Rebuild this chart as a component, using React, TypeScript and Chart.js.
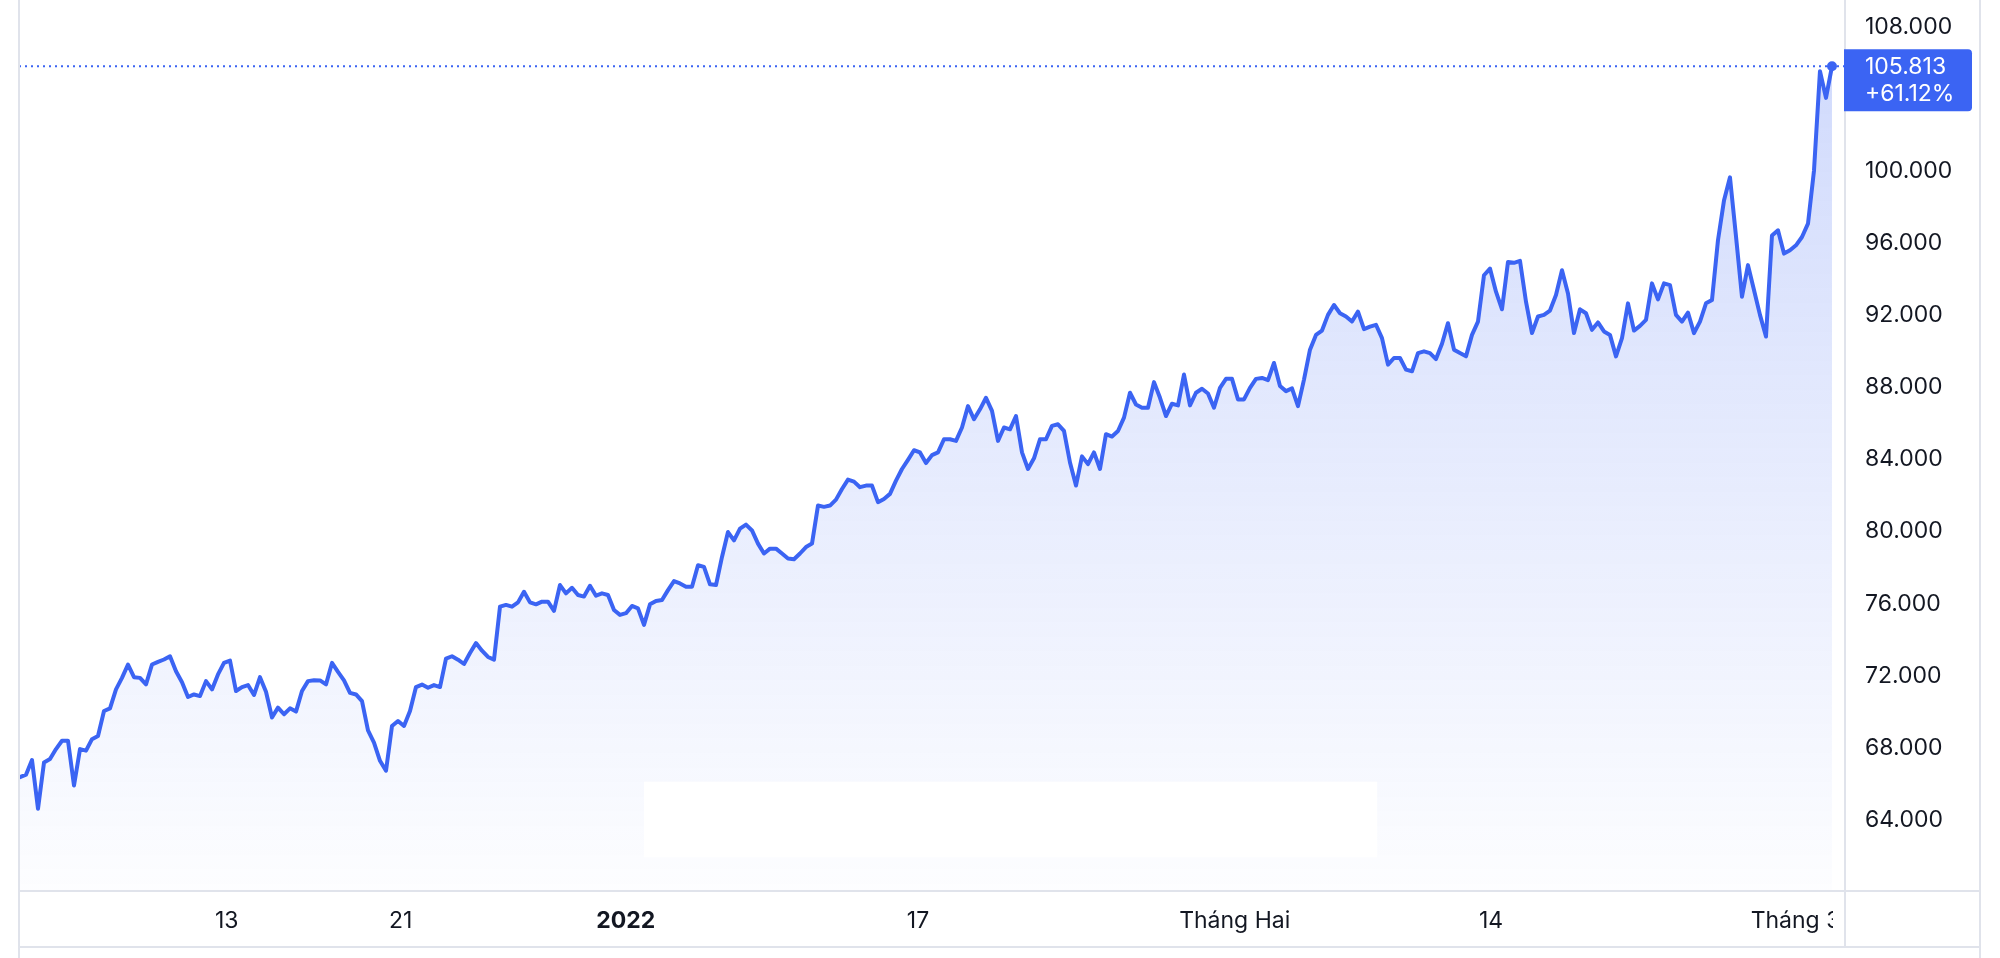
import React, { useEffect, useRef } from "react";
import { Chart, registerables } from "chart.js";

Chart.register(...registerables);

// Price series (in thousands), evenly spaced samples from early December 2021 to 1 March 2022
const prices: number[] = [
  66.37, 66.51, 67.32, 64.62, 67.19, 67.38, 67.93, 68.39, 68.39, 65.91,
  67.93, 67.84, 68.48, 68.66, 70.04, 70.19, 71.24, 71.88, 72.62, 71.92,
  71.88, 71.52, 72.62, 72.77, 72.90, 73.08, 72.25, 71.64, 70.82, 70.96,
  70.87, 71.70, 71.24, 72.07, 72.71, 72.84, 71.15, 71.37, 71.48, 70.93,
  71.92, 71.11, 69.68, 70.23, 69.86, 70.19, 70.01, 71.15, 71.70, 71.75,
  71.74, 71.52, 72.71, 72.21, 71.74,
  71.05, 70.96, 70.59, 68.97, 68.29, 67.28, 66.73, 69.21, 69.49, 69.21,
  70.04, 71.37, 71.51, 71.33, 71.48, 71.37, 72.95, 73.08, 72.89, 72.65,
  73.26, 73.81, 73.39, 73.04, 72.89, 75.83, 75.93, 75.83, 76.07, 76.66,
  76.07, 75.96, 76.11, 76.11, 75.60, 77.03, 76.57, 76.88, 76.48, 76.39,
  76.99, 76.44, 76.57, 76.48, 75.65, 75.375, 75.47, 75.87, 75.74, 74.82,
  75.96, 76.15,
  76.20, 76.75, 77.25, 77.12, 76.94, 76.94, 78.13, 78.04, 77.07, 77.03,
  78.59, 79.97, 79.51, 80.16, 80.38, 80.06, 79.33, 78.78, 79.05, 79.05,
  78.78, 78.50, 78.46, 78.78, 79.14, 79.33, 81.44, 81.37, 81.44, 81.77,
  82.36, 82.88, 82.77, 82.46, 82.55, 82.55, 81.63, 81.81, 82.09, 82.82,
  83.47, 83.98, 84.51, 84.39, 83.80, 84.24, 84.39, 85.12, 85.12, 85.03,
  85.77, 86.96, 86.23,
  86.78, 87.42, 86.69, 85.03, 85.77, 85.67, 86.41, 84.39, 83.47, 84.06,
  85.12, 85.12, 85.86, 85.95, 85.58, 83.83, 82.55, 84.17, 83.74, 84.39,
  83.47, 85.40, 85.27, 85.58, 86.32, 87.70, 87.05, 86.87, 86.87, 88.29,
  87.42, 86.41, 87.09, 87.00, 88.71, 87.00, 87.70, 87.92, 87.66, 86.87,
  87.97, 88.47, 88.47, 87.33, 87.33, 87.97, 88.47, 88.52, 88.40, 89.35,
  88.07, 87.79, 87.94, 86.96,
  88.43, 90.09, 90.91, 91.15, 92.02, 92.57, 92.11, 91.93, 91.65, 92.20,
  91.23, 91.37, 91.47, 90.73, 89.26, 89.63, 89.63, 88.98, 88.89, 89.90,
  90.00, 89.90, 89.57, 90.42, 91.56, 90.09, 89.90, 89.72, 90.91, 91.65,
  94.22, 94.59, 93.31, 92.33, 94.96, 94.91, 95.02, 92.75, 91.01, 91.93,
  92.02, 92.26, 93.12, 94.50, 93.21, 91.01, 92.33, 92.11, 91.19, 91.60,
  91.10, 90.91, 89.72,
  90.73, 92.66, 91.15, 91.41, 91.74, 93.77, 92.88, 93.77, 93.67, 92.02,
  91.65, 92.15, 91.01, 91.65, 92.66, 92.85, 96.16, 98.36, 99.65, 96.38,
  93.03, 94.78, 93.40, 92.02, 90.82, 96.43, 96.71, 95.42, 95.61, 95.88,
  96.34, 97.08, 100.02, 105.54, 104.06, 105.813,
];

// X-axis labels and the sample positions they sit at
const xTickPositions: number[] = [34.45, 63.45, 100.97, 149.67, 202.45, 245.17, 295.92];
const xTickLabels: string[] = ["13", "21", "2022", "17", "Tháng Hai", "14", "Tháng 3"];
const xTickBold: boolean[] = [false, false, true, false, false, false, false];

// Y-axis ticks
const yTickValues: number[] = [64000, 68000, 72000, 76000, 80000, 84000, 88000, 92000, 96000, 100000, 104000, 108000];
const yMin = 60055;
const yMax = 109214;
const xMin = -0.1667;
const xMax = 304.17;

const changePercent = 61.12;

// Blank (erased watermark) box, in data units
const coverXFrom = 104;
const coverXTo = 226.2;
const coverYFrom = 61930;
const coverYTo = 66120;

const BLUE = "#3b64f3";
const BORDER = "#e0e3eb";
const TEXT = "#131722";
const FONT = "Inter, 'Noto Sans', 'DejaVu Sans', sans-serif";
const FONT_SIZE = 23;

function fmt(n: number): string {
  return Math.round(n).toString().replace(/\B(?=(\d{3})+(?!\d))/g, ".");
}

export default function App() {
  const canvasRef = useRef<HTMLCanvasElement | null>(null);

  useEffect(() => {
    const canvas = canvasRef.current;
    if (!canvas) return;
    const points = prices.map((v, i) => ({ x: i, y: Math.round(v * 1000) }));
    const last = points.length - 1;
    const lastValue = points[last].y;

    const overlay = {
      id: "overlay",
      beforeDatasetsDraw(chart: any) {
        const { ctx, chartArea, scales } = chart;
        const yy = scales.y.getPixelForValue(lastValue);
        ctx.save();
        ctx.strokeStyle = BLUE;
        ctx.lineWidth = 2;
        ctx.setLineDash([2, 4]);
        ctx.beginPath();
        ctx.moveTo(chartArea.left, yy);
        ctx.lineTo(chartArea.right, yy);
        ctx.stroke();
        ctx.restore();
      },
      afterDatasetsDraw(chart: any) {
        const { ctx, scales } = chart;
        const x1 = scales.x.getPixelForValue(coverXFrom);
        const x2 = scales.x.getPixelForValue(coverXTo);
        const y1 = scales.y.getPixelForValue(coverYTo);
        const y2 = scales.y.getPixelForValue(coverYFrom);
        ctx.save();
        ctx.fillStyle = "#ffffff";
        ctx.fillRect(x1, y1, x2 - x1, y2 - y1);
        ctx.restore();
      },
      afterDraw(chart: any) {
        const { ctx, chartArea, scales, height } = chart;
        const left = chartArea.left;
        const right = scales.y.right;
        const plotRight = chartArea.right;
        const axisTop = chartArea.bottom;
        const bottom = scales.x.bottom;
        ctx.save();
        // clip overflowing x label under the price scale
        ctx.fillStyle = "#ffffff";
        ctx.fillRect(plotRight - 12, axisTop + 1, right - plotRight + 11, bottom - axisTop - 2);
        // frame lines
        ctx.fillStyle = BORDER;
        ctx.fillRect(left - 1, 0, 2, height);
        ctx.fillRect(right - 1, 0, 2, height);
        ctx.fillRect(plotRight - 1, 0, 2, bottom);
        ctx.fillRect(left, axisTop - 1, right - left, 2);
        ctx.fillRect(left, bottom - 1, right - left, 2);
        // last price badge
        const yy = scales.y.getPixelForValue(lastValue);
        ctx.fillStyle = BLUE;
        ctx.beginPath();
        (ctx as any).roundRect(plotRight - 1, yy - 17, 128, 62, [0, 4, 4, 0]);
        ctx.fill();
        ctx.fillStyle = "#ffffff";
        ctx.font = `${FONT_SIZE}px ${FONT}`;
        ctx.textAlign = "left";
        ctx.textBaseline = "middle";
        ctx.fillText(fmt(lastValue), plotRight + 20, yy + 1);
        ctx.fillText(`+${changePercent.toFixed(2)}%`, plotRight + 20, yy + 28);
        ctx.restore();
      },
    };

    const chart = new Chart(canvas, {
      type: "line",
      data: {
        datasets: [
          {
            data: points,
            borderColor: BLUE,
            borderWidth: 4,
            tension: 0,
            borderJoinStyle: "round",
            borderCapStyle: "round",
            fill: "start",
            backgroundColor: (ctx: any) => {
              const area = ctx.chart.chartArea;
              if (!area) return "rgba(59,100,243,0.1)";
              const g = ctx.chart.ctx.createLinearGradient(0, area.top, 0, area.bottom);
              g.addColorStop(0, "rgba(59,100,243,0.25)");
              g.addColorStop(1, "rgba(59,100,243,0.01)");
              return g;
            },
            pointRadius: (ctx: any) => (ctx.dataIndex === last ? 5 : 0),
            pointHoverRadius: 0,
            pointBackgroundColor: BLUE,
            pointBorderWidth: 0,
          } as any,
        ],
      },
      options: {
        animation: false,
        responsive: true,
        maintainAspectRatio: false,
        events: [],
        layout: { padding: { left: 19, right: 20, top: 0, bottom: 11 } },
        plugins: { legend: { display: false }, tooltip: { enabled: false } },
        scales: {
          x: {
            type: "linear",
            min: xMin,
            max: xMax,
            grid: { display: false, drawTicks: false },
            border: { display: false },
            afterBuildTicks: (s: any) => {
              s.ticks = xTickPositions.map((v) => ({ value: v }));
            },
            afterFit: (s: any) => {
              s.height = 56;
              s.paddingLeft = 0;
              s.paddingRight = 0;
              s.paddingTop = 0;
              s.paddingBottom = 0;
            },
            ticks: {
              autoSkip: false,
              maxRotation: 0,
              minRotation: 0,
              padding: 16,
              color: TEXT,
              font: (ctx: any) => ({
                family: FONT,
                size: FONT_SIZE,
                weight: xTickBold[ctx.index] ? "bold" : "normal",
              }),
              callback: (_v: any, i: number) => xTickLabels[i],
            },
          },
          y: {
            position: "right",
            min: yMin,
            max: yMax,
            grid: { display: false, drawTicks: false },
            border: { display: false },
            afterBuildTicks: (s: any) => {
              s.ticks = yTickValues.map((v) => ({ value: v }));
            },
            afterFit: (s: any) => {
              s.width = 135;
              s.paddingLeft = 0;
              s.paddingRight = 0;
              s.paddingTop = 0;
              s.paddingBottom = 0;
            },
            ticks: {
              padding: 20,
              color: TEXT,
              font: { family: FONT, size: FONT_SIZE },
              callback: (v: any) => fmt(Number(v)),
            },
          },
        },
      } as any,
      plugins: [overlay],
    });

    return () => chart.destroy();
  }, []);

  return (
    <div style={{ position: "fixed", left: 0, top: 0, width: 2000, height: 958, background: "#ffffff" }}>
      <canvas ref={canvasRef} />
    </div>
  );
}
